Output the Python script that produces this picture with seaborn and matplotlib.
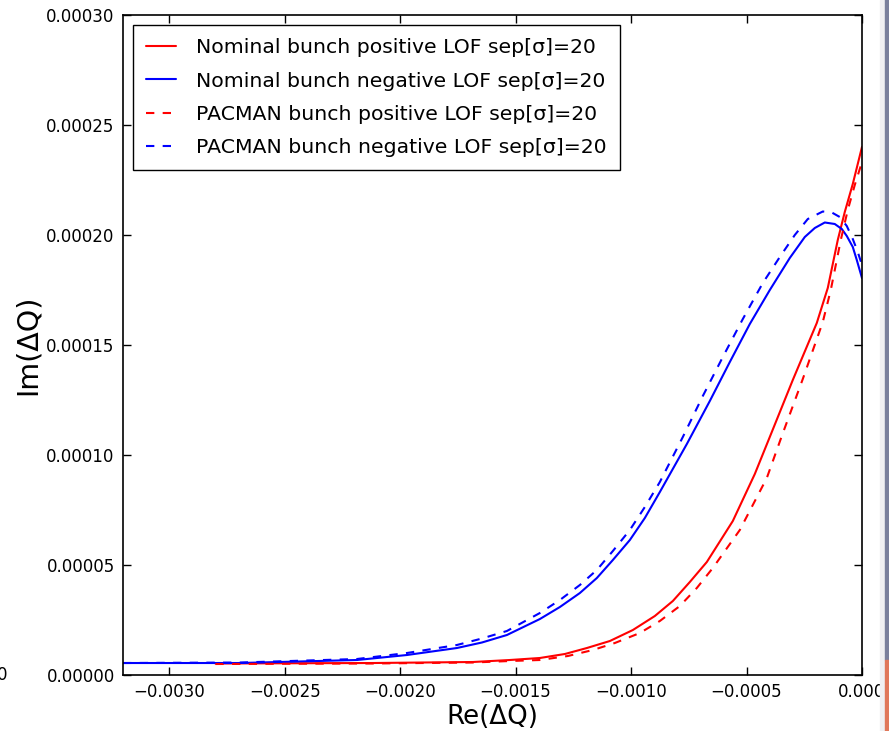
import numpy as np
import pandas as pd
import matplotlib
matplotlib.use("Agg")
import matplotlib.pyplot as plt
import seaborn as sns

# Tune-shift footprints: Re(dQ) vs Im(dQ)
nom_pos_x = [-2.80e-3, -2.1177e-3, -1.6848e-3, -1.5247e-3, -1.3948e-3, -1.2866e-3,
             -1.1913e-3, -1.0918e-3, -0.9922e-3, -0.897e-3, -0.819e-3, -0.7455e-3,
             -0.6719e-3, -0.5593e-3, -0.4641e-3, -0.3905e-3, -0.2996e-3,
             -0.1957e-3, -0.1481e-3, -0.1048e-3, -0.0745e-3, -0.0398e-3, 0.0]
nom_pos_y = [5.23e-6, 5.45e-6, 5.91e-6, 6.82e-6, 7.73e-6, 9.55e-6,
             1.227e-5, 1.545e-5, 2.045e-5, 2.682e-5, 3.364e-5, 4.227e-5,
             5.136e-5, 7.0e-5, 9.136e-5, 1.1045e-4, 1.3409e-4,
             1.60e-4, 1.7591e-4, 1.9773e-4, 2.1045e-4, 2.2318e-4, 2.40e-4]

nom_neg_x = [-3.2e-3, -2.6935e-3, -2.187e-3, -1.9706e-3, -1.7541e-3, -1.6459e-3,
             -1.5377e-3, -1.3948e-3, -1.3082e-3, -1.2216e-3, -1.1481e-3, -1.0788e-3,
             -1.0052e-3, -0.9403e-3, -0.8753e-3, -0.7584e-3, -0.6589e-3, -0.5723e-3,
             -0.4857e-3, -0.3991e-3, -0.3126e-3, -0.2476e-3, -0.2043e-3, -0.1610e-3,
             -0.1178e-3, -0.0874e-3, -0.0658e-3, -0.0398e-3, -0.0225e-3, 0.0]
nom_neg_y = [5.45e-6, 5.45e-6, 6.82e-6, 9.09e-6, 1.227e-5, 1.477e-5,
             1.818e-5, 2.545e-5, 3.091e-5, 3.727e-5, 4.409e-5, 5.227e-5,
             6.136e-5, 7.136e-5, 8.318e-5, 1.05e-4, 1.2455e-4, 1.4227e-4,
             1.5955e-4, 1.75e-4, 1.8955e-4, 1.9909e-4, 2.0318e-4, 2.0568e-4,
             2.05e-4, 2.0273e-4, 1.9955e-4, 1.9455e-4, 1.8864e-4, 1.8045e-4]

pac_pos_x = [-2.80e-3, -2.1177e-3, -1.6848e-3, -1.5247e-3, -1.3948e-3, -1.2736e-3,
             -1.1654e-3, -1.0701e-3, -0.9619e-3, -0.8753e-3, -0.7887e-3, -0.7152e-3,
             -0.6459e-3, -0.529e-3, -0.4121e-3, -0.3472e-3, -0.2563e-3,
             -0.1697e-3, -0.1351e-3, -0.0918e-3, -0.0615e-3, -0.0312e-3, 0.0]
pac_pos_y = [5.0e-6, 5.23e-6, 5.68e-6, 6.36e-6, 6.82e-6, 8.64e-6,
             1.136e-5, 1.455e-5, 1.909e-5, 2.455e-5, 3.136e-5, 3.955e-5,
             4.864e-5, 6.591e-5, 8.955e-5, 1.0864e-4, 1.3455e-4,
             1.6045e-4, 1.75e-4, 1.9773e-4, 2.1136e-4, 2.2273e-4, 2.3318e-4]

pac_neg_x = [-3.2e-3, -2.6935e-3, -2.187e-3, -1.9706e-3, -1.7541e-3, -1.6459e-3,
             -1.5377e-3, -1.3948e-3, -1.3082e-3, -1.2216e-3, -1.1481e-3, -1.0788e-3,
             -1.0052e-3, -0.9403e-3, -0.8753e-3, -0.7758e-3, -0.6892e-3, -0.6026e-3,
             -0.516e-3, -0.4294e-3, -0.3558e-3, -0.2909e-3, -0.2346e-3, -0.1697e-3,
             -0.1307e-3, -0.0961e-3, -0.0658e-3, -0.0398e-3, -0.0182e-3, 0.0]
pac_neg_y = [5.45e-6, 5.68e-6, 7.27e-6, 1.0e-5, 1.364e-5, 1.659e-5,
             2.0e-5, 2.818e-5, 3.409e-5, 4.091e-5, 4.773e-5, 5.636e-5,
             6.591e-5, 7.636e-5, 8.773e-5, 1.0818e-4, 1.2682e-4, 1.4455e-4,
             1.6182e-4, 1.7818e-4, 1.90e-4, 2.0e-4, 2.0727e-4, 2.1068e-4,
             2.1023e-4, 2.0818e-4, 2.0409e-4, 1.9818e-4, 1.9227e-4, 1.8636e-4]

labels = ["Nominal bunch positive LOF sep[\u03c3]=20",
          "Nominal bunch negative LOF sep[\u03c3]=20",
          "PACMAN bunch positive LOF sep[\u03c3]=20",
          "PACMAN bunch negative LOF sep[\u03c3]=20"]

x_ticks = [-0.0030, -0.0025, -0.0020, -0.0015, -0.0010, -0.0005, 0.0]
x_tick_labels = ["\u22120.0030", "\u22120.0025", "\u22120.0020", "\u22120.0015",
                 "\u22120.0010", "\u22120.0005", "0.000"]
y_ticks = [0.0, 0.00005, 0.0001, 0.00015, 0.0002, 0.00025, 0.0003]
y_tick_labels = ["0.00000", "0.00005", "0.00010", "0.00015", "0.00020",
                 "0.00025", "0.00030"]

sns.set_style("ticks")
plt.rcParams["font.family"] = ["DejaVu Sans"]
for key in ("text.color", "axes.labelcolor", "xtick.color", "ytick.color",
            "axes.edgecolor"):
    plt.rcParams[key] = "black"

fig = plt.figure(figsize=(8.89, 7.31), dpi=100)
ax = fig.add_axes([0.1384, 0.0766, 0.9696 - 0.1384, 0.9795 - 0.0766])

series = [
    (nom_pos_x, nom_pos_y, "red", "-"),
    (nom_neg_x, nom_neg_y, "blue", "-"),
    (pac_pos_x, pac_pos_y, "red", "--"),
    (pac_neg_x, pac_neg_y, "blue", "--"),
]
for (xs, ys, col, ls), lab in zip(series, labels):
    df = pd.DataFrame({"re": xs, "im": ys})
    line_kw = dict(dashes=(4, 4)) if ls == "--" else {}
    sns.lineplot(data=df, x="re", y="im", ax=ax, color=col, lw=1.5,
                 estimator=None, sort=False, label=lab, **line_kw)

ax.set_xlim(-0.0032, 0.0)
ax.set_ylim(0.0, 0.0003)
ax.set_xticks(x_ticks)
ax.set_xticklabels(x_tick_labels)
ax.set_yticks(y_ticks)
ax.set_yticklabels(y_tick_labels)
ax.tick_params(axis="both", which="major", labelsize=12, direction="in",
               length=6, width=1, top=True, right=True, color="black", pad=6)
for sp in ax.spines.values():
    sp.set_linewidth(1.2)
    sp.set_color("black")

ax.set_xlabel("Re(\u0394Q)", fontsize=18.8, labelpad=2)
ax.set_ylabel("Im(\u0394Q)", fontsize=20.5, labelpad=3)

leg = ax.legend(loc="upper left", fontsize=14.7, frameon=True, fancybox=False,
                edgecolor="black", framealpha=1, handlelength=1.47,
                handletextpad=0.98, labelspacing=0.7, borderpad=0.65,
                borderaxespad=0.49)
leg.get_frame().set_linewidth(1.0)

# window edge on the right
fig.patches.append(plt.Rectangle((880 / 889, 0), 5 / 889, 1, transform=fig.transFigure,
                                 color="#f0f0f2", zorder=0))
fig.patches.append(plt.Rectangle((885 / 889, 71 / 731), 4 / 889, 1, transform=fig.transFigure,
                                 color="#7a809c", zorder=0))
fig.patches.append(plt.Rectangle((885 / 889, 0), 4 / 889, 71 / 731, transform=fig.transFigure,
                                 color="#e0785a", zorder=0))
fig.text(-0.004, 56 / 731, "0", fontsize=12, ha="left", va="center")

fig.savefig("out.png", dpi=100)
